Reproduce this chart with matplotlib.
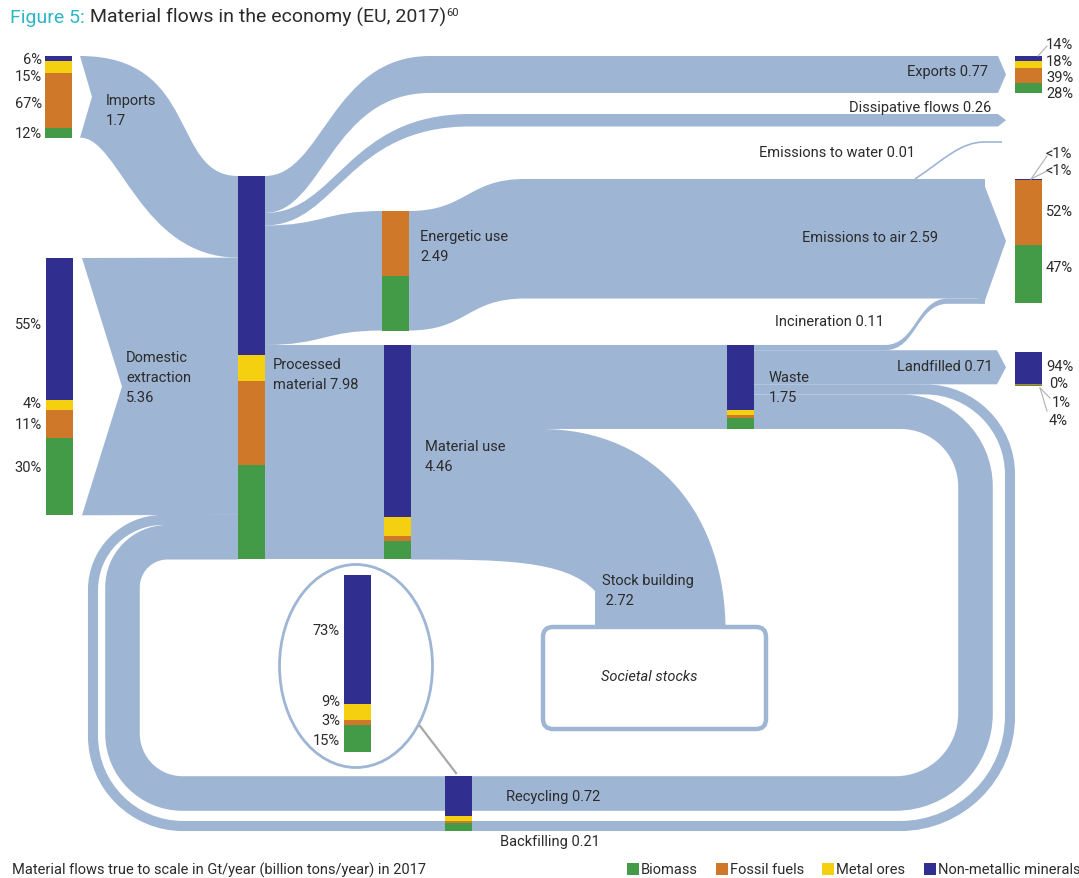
import matplotlib.pyplot as plt
from matplotlib.path import Path
from matplotlib.patches import PathPatch, Rectangle, Ellipse, FancyBboxPatch, Polygon

plt.rcParams["font.family"] = ["Roboto", "DejaVu Sans"]

# --- data (Gt/year, EU 2017) ---
materials = ["Biomass", "Fossil fuels", "Metal ores", "Non-metallic minerals"]
mat_colors = ["#439b47", "#d0782a", "#f4d010", "#302e8f"]

imports = 1.7
domestic_extraction = 5.36
processed = 7.98
exports = 0.77
dissipative = 0.26
emissions_water = 0.01
energetic = 2.49
emissions_air = 2.59
material_use = 4.46
stock_building = 2.72
waste = 1.75
incineration = 0.11
landfilled = 0.71
recycling = 0.72
backfilling = 0.21

# shares in % (biomass, fossil, metal ores, non-metallic)
imports_share = [12, 67, 15, 6]
extraction_share = [30, 11, 4, 55]
recycled_share = [15, 3, 9, 73]
exports_share = [28, 39, 18, 14]
air_share = [47, 52, 0.5, 0.5]
landfill_share = [4, 1, 0, 94]
energetic_share = [46, 54, 0, 0]
material_use_share = [8.4, 2.3, 8.8, 80.5]
waste_share = [13, 4, 6, 77]

imports_labels = ["12%", "67%", "15%", "6%"]
extraction_labels = ["30%", "11%", "4%", "55%"]
recycled_labels = ["15%", "3%", "9%", "73%"]
exports_labels = ["28%", "39%", "18%", "14%"]
air_labels = ["47%", "52%", "<1%", "<1%"]
landfill_labels = ["4%", "1%", "0%", "94%"]

# processed material composition follows from its inputs
inputs = [(imports, imports_share), (domestic_extraction, extraction_share),
          (recycling + backfilling, recycled_share)]
processed_share = [sum(v * s[i] for v, s in inputs) for i in range(4)]

# --- layout ---
W, H, DPI = 1079, 879, 100
S = 48.0  # px per Gt
FLOW = "#9fb5d4"
TXT = "#2b2b2b"
BW = 27
FS = 10.5

fig = plt.figure(figsize=(W / DPI, H / DPI), dpi=DPI)
ax = fig.add_axes([0, 0, 1, 1])
ax.set_xlim(0, W)
ax.set_ylim(H, 0)
ax.axis("off")

M, L, C4, CL = Path.MOVETO, Path.LINETO, Path.CURVE4, Path.CLOSEPOLY


def sflow(x0, y0, x1, y1, value, xs=None, xe=None, tip=0, notch=0,
          ct=(0.5, 0.5), cb=None):
    """Band of the flow's width from (x0, y0) to (x1, y1), S-bend between xs and xe."""
    w = value * S
    xs = x0 if xs is None else xs
    xe = x1 if xe is None else xe
    cb = ct if cb is None else cb
    d = xe - xs
    v = [(x0, y0), (xs, y0), (xs + ct[0] * d, y0), (xe - ct[1] * d, y1), (xe, y1), (x1, y1)]
    c = [M, L, C4, C4, C4, L]
    if tip:
        v += [(x1 + tip, y1 + w / 2)]
        c += [L]
    v += [(x1, y1 + w), (xe, y1 + w), (xe - cb[1] * d, y1 + w), (xs + cb[0] * d, y0 + w),
          (xs, y0 + w), (x0, y0 + w)]
    c += [L, L, C4, C4, C4, L]
    if notch:
        v += [(x0 + notch, y0 + w / 2)]
        c += [L]
    v += [(x0, y0)]
    c += [CL]
    ax.add_patch(PathPatch(Path(v, c), fc=FLOW, ec="none", zorder=1))
    return y1 + w


def loop(points, radii, value):
    # rounded axis-aligned polyline stroked with the flow width
    v = [points[0]]
    c = [M]
    kk = 0.5523
    for i in range(1, len(points) - 1):
        p, q, n = points[i - 1], points[i], points[i + 1]
        r = radii[i - 1]
        l1 = abs(q[0] - p[0]) + abs(q[1] - p[1])
        l2 = abs(n[0] - q[0]) + abs(n[1] - q[1])
        d1 = ((q[0] - p[0]) / l1, (q[1] - p[1]) / l1)
        d2 = ((n[0] - q[0]) / l2, (n[1] - q[1]) / l2)
        a = (q[0] - d1[0] * r, q[1] - d1[1] * r)
        b = (q[0] + d2[0] * r, q[1] + d2[1] * r)
        v += [a, (a[0] + d1[0] * r * kk, a[1] + d1[1] * r * kk),
              (b[0] - d2[0] * r * kk, b[1] - d2[1] * r * kk), b]
        c += [L, C4, C4, C4]
    v.append(points[-1])
    c.append(L)
    ax.add_patch(PathPatch(Path(v, c), fc="none", ec=FLOW, lw=value * S * 72 / DPI,
                           capstyle="butt", joinstyle="round", zorder=1))


def stack_bar(x, top, height, shares):
    total = sum(shares)
    y = top + height
    for share, col in zip(shares, mat_colors):
        seg = height * share / total
        ax.add_patch(Rectangle((x, y - seg), BW, seg, fc=col, ec="none", zorder=3))
        y -= seg


def pct_labels(x, ys, labels, ha="right"):
    for y, s in zip(ys, labels):
        ax.text(x, y, s, ha=ha, va="center", fontsize=FS, color=TXT, zorder=4)


def label(x, y, s, ha="left"):
    ax.text(x, y, s, ha=ha, va="center", fontsize=FS, color=TXT, linespacing=1.55, zorder=4)


# --- inflows ---
p_top = 177
x_in, x_proc = 80, 238
de_top = 259
imp_end = sflow(x_in, 57, x_proc, p_top, imports, notch=12, ct=(0.76, 0.43), cb=(0.25, 0.62))
de_end = sflow(x_in + 2, de_top, x_proc, imp_end, domestic_extraction, notch=40)

# --- outflows of processed material ---
xp = x_proc + BW
sflow(xp, p_top, 998, 57, exports, xe=430, tip=8, ct=(0.35, 0.6))
y = p_top + exports * S
sflow(xp, y, 998, 115, dissipative, xe=470, tip=8, ct=(0.35, 0.6))
y += dissipative * S
e_top = 212
sflow(xp, y, 382, e_top, energetic)
y_mu = y + energetic * S
sflow(xp, y_mu, 384, y_mu, material_use)

# energetic -> emissions to air (+ incineration joining from below)
air_top = 180
air_bot = sflow(409, e_top, 985, air_top, energetic, xe=525)
sflow(384 + BW, y_mu, 727, y_mu, waste)  # material use -> waste
y_inc = y_mu
sflow(754, y_inc, 985, air_bot, incineration, xs=885, xe=948)
y_land = y_inc + incineration * S
ax.add_patch(Polygon([(978, air_top), (982, air_top), (1006, 242),
                      (984, air_top + emissions_air * S), (978, air_top + emissions_air * S)],
                     fc=FLOW, ec="none", zorder=1))
y_back = sflow(754, y_land, 997, y_land, landfilled, tip=9)
y_rec = y_back + backfilling * S

# water emissions thin line
ax.add_patch(PathPatch(Path([(915, air_top), (945, 160), (960, 143), (985, 143), (1002, 143)],
                            [M, C4, C4, C4, L]), fc="none", ec=FLOW, lw=1.2, zorder=1))

# stock building
sb_top = y_mu + waste * S
sb_bot = sb_top + stock_building * S
box_top = 628
sx0 = 595
sx1 = sx0 + stock_building * S
v = [(411, sb_top), (540, sb_top), (660, sb_top), (sx1, 520), (sx1, box_top + 4),
     (sx0, box_top + 4), (sx0, 592), (565, sb_bot), (500, sb_bot), (411, sb_bot), (411, sb_top)]
c = [M, L, C4, C4, C4, L, L, C4, C4, L, CL]
ax.add_patch(PathPatch(Path(v, c), fc=FLOW, ec="none", zorder=1))

# recycling & backfilling loops back to processed material
rc = y_rec + recycling * S / 2
bc = y_back + backfilling * S / 2
back_in = de_end + backfilling * S / 2
rec_in = de_end + backfilling * S + recycling * S / 2
loop([(754, rc), (975.5, rc), (975.5, 794.5), (122.5, 794.5), (122.5, rec_in), (x_proc, rec_in)],
     [75, 80, 60, 45], recycling)
loop([(754, bc), (1010, bc), (1010, 827), (93, 827), (93, back_in), (x_proc, back_in)],
     [85, 110, 90, 70], backfilling)

# societal stocks box
ax.add_patch(FancyBboxPatch((543, box_top), 223, 102, boxstyle="round,pad=0,rounding_size=10",
                            fc="white", ec=FLOW, lw=3.2, zorder=2))
ax.text(649, 677, "Societal stocks", ha="center", va="center", fontsize=FS,
        style="italic", color=TXT, zorder=4)

# zoom circle of recycled composition
ax.add_patch(Ellipse((356, 667), 153, 203, fc="white", ec=FLOW, lw=2, zorder=2))
ax.plot([420, 456], [727, 774], color="#a8a8a8", lw=1.6, zorder=2)
stack_bar(344, 576, 177, recycled_share)
pct_labels(340, [741, 721, 702, 631], recycled_labels)

# --- bars ---
stack_bar(45, 57, imports * S, imports_share)
pct_labels(42, [134, 104, 77, 60], imports_labels)
stack_bar(46, de_top, domestic_extraction * S, extraction_share)
pct_labels(42, [468, 425, 404, 325], extraction_labels)
stack_bar(x_proc, p_top, processed * S, processed_share)
stack_bar(382, e_top, energetic * S, energetic_share)
stack_bar(384, y_mu, material_use * S, material_use_share)
stack_bar(727, y_mu, waste * S, waste_share)
stack_bar(445, 777, 55, recycled_share)

stack_bar(1015, 57, exports * S, exports_share)
pct_labels(1046, [94, 78, 62, 45], exports_labels, ha="left")
stack_bar(1015, air_top, emissions_air * S, air_share)
pct_labels(1046, [268, 212, 171, 154], air_labels, ha="left")
stack_bar(1015, 353, landfilled * S, landfill_share)
for (lx, ly), s in zip([(1049, 421), (1052, 403), (1049, 384), (1046, 367)], landfill_labels):
    ax.text(lx, ly, s, ha="left", va="center", fontsize=FS, color=TXT)

lead = dict(color="#b0b0b0", lw=0.8, zorder=4)
ax.plot([1038, 1047], [57, 47], **lead)
ax.plot([1031, 1047], [180, 157], **lead)
ax.plot([1031, 1047], [180, 172], **lead)
ax.plot([1040, 1050], [389, 399], **lead)
ax.plot([1040, 1047], [389, 412], **lead)

# --- flow labels ---
label(106, 111, "Imports\n1.7")
label(126, 378, "Domestic\nextraction\n5.36")
label(273, 375, "Processed\nmaterial 7.98")
label(420, 247, "Energetic use\n2.49")
label(425, 457, "Material use\n4.46")
label(769, 388, "Waste\n1.75")
label(602, 591, "Stock building\n 2.72")
label(988, 72, "Exports 0.77", ha="right")
label(991, 108, "Dissipative flows 0.26", ha="right")
label(915, 153, "Emissions to water 0.01", ha="right")
label(938, 238, "Emissions to air 2.59", ha="right")
label(775, 322, "Incineration 0.11")
label(993, 367, "Landfilled 0.71", ha="right")
label(506, 797, "Recycling 0.72")
label(500, 842, "Backfilling 0.21")

# --- title, note, legend ---
t1 = ax.text(10, 18, "Figure 5:", ha="left", va="center", fontsize=14, color="#2fb6c3")
t2 = ax.annotate(" Material flows in the economy (EU, 2017)", xy=(1, 0), xycoords=t1,
                 xytext=(0, 0), textcoords="offset points", ha="left", va="bottom",
                 fontsize=14, color=TXT)
ax.annotate("60", xy=(1, 0.45), xycoords=t2, xytext=(0, 0), textcoords="offset points",
            ha="left", va="bottom", fontsize=8, color=TXT)

ax.text(12, 870, "Material flows true to scale in Gt/year (billion tons/year) in 2017",
        ha="left", va="center", fontsize=FS, color=TXT)
for lx, name, col in zip([627, 716, 822, 924], materials, mat_colors):
    ax.add_patch(Rectangle((lx, 864), 12, 12, fc=col, ec="none"))
    ax.text(lx + 14, 870, name, ha="left", va="center", fontsize=FS, color=TXT)

fig.savefig("out.png", dpi=DPI)
